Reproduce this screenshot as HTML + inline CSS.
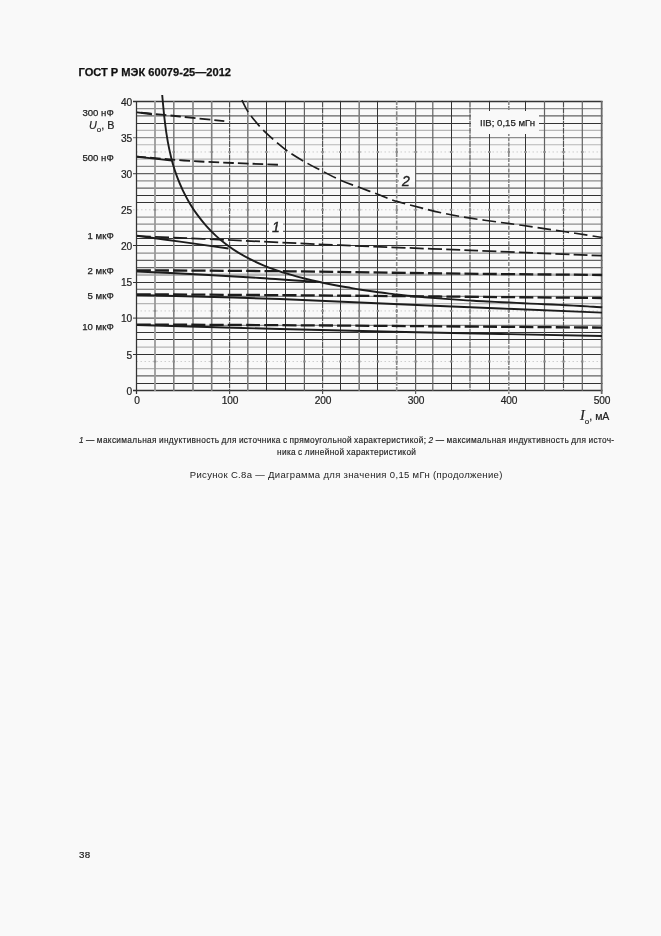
<!DOCTYPE html>
<html lang="ru"><head><meta charset="utf-8"><title>ГОСТ Р МЭК 60079-25—2012</title>
<style>
html,body{margin:0;padding:0;background:#f9f9f9}
body{width:661px;height:936px;background:#f9f9f9;position:relative;overflow:hidden;font-family:"Liberation Sans",sans-serif;color:#222}
.t{position:absolute;white-space:nowrap;line-height:14px;font-size:11px}
.hd{left:78.5px;top:65.2px;font-weight:bold;font-size:11.1px;color:#111;-webkit-text-stroke:0.25px #111}
.yl{left:100px;width:32px;text-align:right;font-size:10.2px;letter-spacing:-0.2px;-webkit-text-stroke:0.2px #222}
.xl{top:393.6px;width:40px;text-align:center;font-size:10.2px;letter-spacing:-0.2px;-webkit-text-stroke:0.2px #222}
.cl{left:55.7px;width:58px;text-align:right;font-size:9.6px;-webkit-text-stroke:0.25px #222}
svg{position:absolute;left:0;top:0}
.box{position:absolute;background:#f9f9f9}
.cap{font-size:8.3px;line-height:12px;letter-spacing:0.33px;word-spacing:-0.5px;-webkit-text-stroke:0.15px #222}
</style></head><body>
<div class="t hd">ГОСТ Р МЭК 60079-25—2012</div>
<svg width="661" height="936" viewBox="0 0 661 936">
<line x1="133.0" y1="101.50" x2="602.5" y2="101.50" stroke="#333" stroke-width="1.3"/>
<line x1="136.5" y1="108.62" x2="602.5" y2="108.62" stroke="#8c8c8c" stroke-width="1.25"/>
<line x1="136.5" y1="115.85" x2="602.5" y2="115.85" stroke="#626262" stroke-width="1.2"/>
<line x1="136.5" y1="123.50" x2="602.5" y2="123.50" stroke="#333" stroke-width="1.0"/>
<line x1="136.5" y1="130.30" x2="602.5" y2="130.30" stroke="#b6b6b6" stroke-width="1.2"/>
<line x1="133.0" y1="137.52" x2="602.5" y2="137.52" stroke="#8c8c8c" stroke-width="1.25"/>
<line x1="136.5" y1="144.75" x2="602.5" y2="144.75" stroke="#b6b6b6" stroke-width="1.2"/>
<line x1="136.5" y1="151.97" x2="602.5" y2="151.97" stroke="#cfcfcf" stroke-width="1.0" stroke-dasharray="1.5 2.5"/>
<line x1="136.5" y1="159.20" x2="602.5" y2="159.20" stroke="#b6b6b6" stroke-width="1.2"/>
<line x1="136.5" y1="166.42" x2="602.5" y2="166.42" stroke="#8c8c8c" stroke-width="1.25"/>
<line x1="133.0" y1="173.65" x2="602.5" y2="173.65" stroke="#626262" stroke-width="1.2"/>
<line x1="136.5" y1="180.87" x2="602.5" y2="180.87" stroke="#8c8c8c" stroke-width="1.25"/>
<line x1="136.5" y1="188.10" x2="602.5" y2="188.10" stroke="#626262" stroke-width="1.2"/>
<line x1="136.5" y1="195.50" x2="602.5" y2="195.50" stroke="#333" stroke-width="1.0"/>
<line x1="136.5" y1="202.50" x2="602.5" y2="202.50" stroke="#333" stroke-width="1.0"/>
<line x1="133.0" y1="209.77" x2="602.5" y2="209.77" stroke="#cfcfcf" stroke-width="1.0" stroke-dasharray="1.5 2.5"/>
<line x1="136.5" y1="217.00" x2="602.5" y2="217.00" stroke="#8c8c8c" stroke-width="1.25"/>
<line x1="136.5" y1="224.22" x2="602.5" y2="224.22" stroke="#8c8c8c" stroke-width="1.25"/>
<line x1="136.5" y1="231.45" x2="602.5" y2="231.45" stroke="#626262" stroke-width="1.2"/>
<line x1="136.5" y1="238.50" x2="602.5" y2="238.50" stroke="#333" stroke-width="1.0"/>
<line x1="133.0" y1="245.50" x2="602.5" y2="245.50" stroke="#333" stroke-width="1.0"/>
<line x1="136.5" y1="253.12" x2="602.5" y2="253.12" stroke="#8c8c8c" stroke-width="1.25"/>
<line x1="136.5" y1="260.35" x2="602.5" y2="260.35" stroke="#626262" stroke-width="1.2"/>
<line x1="136.5" y1="267.57" x2="602.5" y2="267.57" stroke="#626262" stroke-width="1.2"/>
<line x1="136.5" y1="274.80" x2="602.5" y2="274.80" stroke="#b6b6b6" stroke-width="2.4"/>
<line x1="133.0" y1="282.50" x2="602.5" y2="282.50" stroke="#333" stroke-width="1.0"/>
<line x1="136.5" y1="289.25" x2="602.5" y2="289.25" stroke="#626262" stroke-width="1.2"/>
<line x1="136.5" y1="296.47" x2="602.5" y2="296.47" stroke="#8c8c8c" stroke-width="1.25"/>
<line x1="136.5" y1="303.70" x2="602.5" y2="303.70" stroke="#b6b6b6" stroke-width="1.2"/>
<line x1="136.5" y1="310.92" x2="602.5" y2="310.92" stroke="#cfcfcf" stroke-width="1.0" stroke-dasharray="1.5 2.5"/>
<line x1="133.0" y1="318.15" x2="602.5" y2="318.15" stroke="#626262" stroke-width="1.2"/>
<line x1="136.5" y1="325.38" x2="602.5" y2="325.38" stroke="#8c8c8c" stroke-width="1.25"/>
<line x1="136.5" y1="332.50" x2="602.5" y2="332.50" stroke="#333" stroke-width="1.0"/>
<line x1="136.5" y1="339.50" x2="602.5" y2="339.50" stroke="#333" stroke-width="1.0"/>
<line x1="136.5" y1="347.05" x2="602.5" y2="347.05" stroke="#b6b6b6" stroke-width="1.2"/>
<line x1="133.0" y1="354.50" x2="602.5" y2="354.50" stroke="#333" stroke-width="1.0"/>
<line x1="136.5" y1="361.50" x2="602.5" y2="361.50" stroke="#cfcfcf" stroke-width="1.0" stroke-dasharray="1.5 2.5"/>
<line x1="136.5" y1="368.72" x2="602.5" y2="368.72" stroke="#b6b6b6" stroke-width="1.2"/>
<line x1="136.5" y1="375.95" x2="602.5" y2="375.95" stroke="#626262" stroke-width="1.2"/>
<line x1="136.5" y1="383.50" x2="602.5" y2="383.50" stroke="#333" stroke-width="1.0"/>
<line x1="133.0" y1="390.50" x2="602.5" y2="390.50" stroke="#333" stroke-width="1.3"/>
<line x1="136.50" y1="100.9" x2="136.50" y2="393.9" stroke="#333" stroke-width="1.25"/>
<line x1="155.00" y1="100.9" x2="155.00" y2="390.9" stroke="#9a9a9a" stroke-width="1.8"/>
<line x1="173.80" y1="100.9" x2="173.80" y2="390.9" stroke="#808080" stroke-width="1.6"/>
<line x1="193.00" y1="100.9" x2="193.00" y2="390.9" stroke="#808080" stroke-width="1.6"/>
<line x1="211.70" y1="100.9" x2="211.70" y2="390.9" stroke="#808080" stroke-width="1.6"/>
<line x1="229.60" y1="100.9" x2="229.60" y2="393.9" stroke="#505050" stroke-width="1.15" stroke-dasharray="6 0.7"/>
<line x1="247.80" y1="100.9" x2="247.80" y2="390.9" stroke="#808080" stroke-width="1.6"/>
<line x1="266.50" y1="100.9" x2="266.50" y2="390.9" stroke="#333" stroke-width="1.0"/>
<line x1="285.50" y1="100.9" x2="285.50" y2="390.9" stroke="#333" stroke-width="1.0"/>
<line x1="304.40" y1="100.9" x2="304.40" y2="390.9" stroke="#626262" stroke-width="1.2"/>
<line x1="322.60" y1="100.9" x2="322.60" y2="393.9" stroke="#505050" stroke-width="1.15" stroke-dasharray="6 0.7"/>
<line x1="340.50" y1="100.9" x2="340.50" y2="390.9" stroke="#333" stroke-width="1.0"/>
<line x1="359.20" y1="100.9" x2="359.20" y2="390.9" stroke="#808080" stroke-width="1.6"/>
<line x1="377.50" y1="100.9" x2="377.50" y2="390.9" stroke="#333" stroke-width="1.0"/>
<line x1="396.70" y1="100.9" x2="396.70" y2="390.9" stroke="#8a8a8a" stroke-width="1.6" stroke-dasharray="4 1.2"/>
<line x1="415.60" y1="100.9" x2="415.60" y2="393.9" stroke="#626262" stroke-width="1.2"/>
<line x1="432.80" y1="100.9" x2="432.80" y2="390.9" stroke="#626262" stroke-width="1.2"/>
<line x1="451.50" y1="100.9" x2="451.50" y2="390.9" stroke="#333" stroke-width="1.0"/>
<line x1="470.00" y1="100.9" x2="470.00" y2="390.9" stroke="#505050" stroke-width="1.15" stroke-dasharray="6 0.7"/>
<line x1="489.50" y1="100.9" x2="489.50" y2="390.9" stroke="#333" stroke-width="1.0"/>
<line x1="508.80" y1="100.9" x2="508.80" y2="393.9" stroke="#8a8a8a" stroke-width="1.6" stroke-dasharray="4 1.2"/>
<line x1="525.50" y1="100.9" x2="525.50" y2="390.9" stroke="#333" stroke-width="1.0"/>
<line x1="544.50" y1="100.9" x2="544.50" y2="390.9" stroke="#626262" stroke-width="1.2"/>
<line x1="563.50" y1="100.9" x2="563.50" y2="390.9" stroke="#505050" stroke-width="1.15" stroke-dasharray="6 0.7"/>
<line x1="582.30" y1="100.9" x2="582.30" y2="390.9" stroke="#626262" stroke-width="1.2"/>
<line x1="601.70" y1="100.9" x2="601.70" y2="393.9" stroke="#6a6a6a" stroke-width="1.8"/>
<rect x="153.8" y="151.0" width="2.4" height="2" fill="#8c8c8c"/>
<rect x="172.6" y="151.0" width="2.4" height="2" fill="#8c8c8c"/>
<rect x="191.8" y="151.0" width="2.4" height="2" fill="#8c8c8c"/>
<rect x="210.5" y="151.0" width="2.4" height="2" fill="#8c8c8c"/>
<rect x="228.4" y="151.0" width="2.4" height="2" fill="#8c8c8c"/>
<rect x="246.6" y="151.0" width="2.4" height="2" fill="#8c8c8c"/>
<rect x="265.3" y="151.0" width="2.4" height="2" fill="#8c8c8c"/>
<rect x="284.2" y="151.0" width="2.4" height="2" fill="#8c8c8c"/>
<rect x="303.2" y="151.0" width="2.4" height="2" fill="#8c8c8c"/>
<rect x="321.4" y="151.0" width="2.4" height="2" fill="#8c8c8c"/>
<rect x="339.2" y="151.0" width="2.4" height="2" fill="#8c8c8c"/>
<rect x="358.0" y="151.0" width="2.4" height="2" fill="#8c8c8c"/>
<rect x="376.7" y="151.0" width="2.4" height="2" fill="#8c8c8c"/>
<rect x="395.5" y="151.0" width="2.4" height="2" fill="#8c8c8c"/>
<rect x="414.4" y="151.0" width="2.4" height="2" fill="#8c8c8c"/>
<rect x="431.6" y="151.0" width="2.4" height="2" fill="#8c8c8c"/>
<rect x="450.0" y="151.0" width="2.4" height="2" fill="#8c8c8c"/>
<rect x="468.8" y="151.0" width="2.4" height="2" fill="#8c8c8c"/>
<rect x="488.1" y="151.0" width="2.4" height="2" fill="#8c8c8c"/>
<rect x="507.6" y="151.0" width="2.4" height="2" fill="#8c8c8c"/>
<rect x="524.3" y="151.0" width="2.4" height="2" fill="#8c8c8c"/>
<rect x="543.3" y="151.0" width="2.4" height="2" fill="#8c8c8c"/>
<rect x="562.3" y="151.0" width="2.4" height="2" fill="#8c8c8c"/>
<rect x="581.1" y="151.0" width="2.4" height="2" fill="#8c8c8c"/>
<rect x="153.8" y="208.8" width="2.4" height="2" fill="#8c8c8c"/>
<rect x="172.6" y="208.8" width="2.4" height="2" fill="#8c8c8c"/>
<rect x="191.8" y="208.8" width="2.4" height="2" fill="#8c8c8c"/>
<rect x="210.5" y="208.8" width="2.4" height="2" fill="#8c8c8c"/>
<rect x="228.4" y="208.8" width="2.4" height="2" fill="#8c8c8c"/>
<rect x="246.6" y="208.8" width="2.4" height="2" fill="#8c8c8c"/>
<rect x="265.3" y="208.8" width="2.4" height="2" fill="#8c8c8c"/>
<rect x="284.2" y="208.8" width="2.4" height="2" fill="#8c8c8c"/>
<rect x="303.2" y="208.8" width="2.4" height="2" fill="#8c8c8c"/>
<rect x="321.4" y="208.8" width="2.4" height="2" fill="#8c8c8c"/>
<rect x="339.2" y="208.8" width="2.4" height="2" fill="#8c8c8c"/>
<rect x="358.0" y="208.8" width="2.4" height="2" fill="#8c8c8c"/>
<rect x="376.7" y="208.8" width="2.4" height="2" fill="#8c8c8c"/>
<rect x="395.5" y="208.8" width="2.4" height="2" fill="#8c8c8c"/>
<rect x="414.4" y="208.8" width="2.4" height="2" fill="#8c8c8c"/>
<rect x="431.6" y="208.8" width="2.4" height="2" fill="#8c8c8c"/>
<rect x="450.0" y="208.8" width="2.4" height="2" fill="#8c8c8c"/>
<rect x="468.8" y="208.8" width="2.4" height="2" fill="#8c8c8c"/>
<rect x="488.1" y="208.8" width="2.4" height="2" fill="#8c8c8c"/>
<rect x="507.6" y="208.8" width="2.4" height="2" fill="#8c8c8c"/>
<rect x="524.3" y="208.8" width="2.4" height="2" fill="#8c8c8c"/>
<rect x="543.3" y="208.8" width="2.4" height="2" fill="#8c8c8c"/>
<rect x="562.3" y="208.8" width="2.4" height="2" fill="#8c8c8c"/>
<rect x="581.1" y="208.8" width="2.4" height="2" fill="#8c8c8c"/>
<rect x="153.8" y="309.9" width="2.4" height="2" fill="#8c8c8c"/>
<rect x="172.6" y="309.9" width="2.4" height="2" fill="#8c8c8c"/>
<rect x="191.8" y="309.9" width="2.4" height="2" fill="#8c8c8c"/>
<rect x="210.5" y="309.9" width="2.4" height="2" fill="#8c8c8c"/>
<rect x="228.4" y="309.9" width="2.4" height="2" fill="#8c8c8c"/>
<rect x="246.6" y="309.9" width="2.4" height="2" fill="#8c8c8c"/>
<rect x="265.3" y="309.9" width="2.4" height="2" fill="#8c8c8c"/>
<rect x="284.2" y="309.9" width="2.4" height="2" fill="#8c8c8c"/>
<rect x="303.2" y="309.9" width="2.4" height="2" fill="#8c8c8c"/>
<rect x="321.4" y="309.9" width="2.4" height="2" fill="#8c8c8c"/>
<rect x="339.2" y="309.9" width="2.4" height="2" fill="#8c8c8c"/>
<rect x="358.0" y="309.9" width="2.4" height="2" fill="#8c8c8c"/>
<rect x="376.7" y="309.9" width="2.4" height="2" fill="#8c8c8c"/>
<rect x="395.5" y="309.9" width="2.4" height="2" fill="#8c8c8c"/>
<rect x="414.4" y="309.9" width="2.4" height="2" fill="#8c8c8c"/>
<rect x="431.6" y="309.9" width="2.4" height="2" fill="#8c8c8c"/>
<rect x="450.0" y="309.9" width="2.4" height="2" fill="#8c8c8c"/>
<rect x="468.8" y="309.9" width="2.4" height="2" fill="#8c8c8c"/>
<rect x="488.1" y="309.9" width="2.4" height="2" fill="#8c8c8c"/>
<rect x="507.6" y="309.9" width="2.4" height="2" fill="#8c8c8c"/>
<rect x="524.3" y="309.9" width="2.4" height="2" fill="#8c8c8c"/>
<rect x="543.3" y="309.9" width="2.4" height="2" fill="#8c8c8c"/>
<rect x="562.3" y="309.9" width="2.4" height="2" fill="#8c8c8c"/>
<rect x="581.1" y="309.9" width="2.4" height="2" fill="#8c8c8c"/>
<rect x="153.8" y="360.5" width="2.4" height="2" fill="#8c8c8c"/>
<rect x="172.6" y="360.5" width="2.4" height="2" fill="#8c8c8c"/>
<rect x="191.8" y="360.5" width="2.4" height="2" fill="#8c8c8c"/>
<rect x="210.5" y="360.5" width="2.4" height="2" fill="#8c8c8c"/>
<rect x="228.4" y="360.5" width="2.4" height="2" fill="#8c8c8c"/>
<rect x="246.6" y="360.5" width="2.4" height="2" fill="#8c8c8c"/>
<rect x="265.3" y="360.5" width="2.4" height="2" fill="#8c8c8c"/>
<rect x="284.2" y="360.5" width="2.4" height="2" fill="#8c8c8c"/>
<rect x="303.2" y="360.5" width="2.4" height="2" fill="#8c8c8c"/>
<rect x="321.4" y="360.5" width="2.4" height="2" fill="#8c8c8c"/>
<rect x="339.2" y="360.5" width="2.4" height="2" fill="#8c8c8c"/>
<rect x="358.0" y="360.5" width="2.4" height="2" fill="#8c8c8c"/>
<rect x="376.7" y="360.5" width="2.4" height="2" fill="#8c8c8c"/>
<rect x="395.5" y="360.5" width="2.4" height="2" fill="#8c8c8c"/>
<rect x="414.4" y="360.5" width="2.4" height="2" fill="#8c8c8c"/>
<rect x="431.6" y="360.5" width="2.4" height="2" fill="#8c8c8c"/>
<rect x="450.0" y="360.5" width="2.4" height="2" fill="#8c8c8c"/>
<rect x="468.8" y="360.5" width="2.4" height="2" fill="#8c8c8c"/>
<rect x="488.1" y="360.5" width="2.4" height="2" fill="#8c8c8c"/>
<rect x="507.6" y="360.5" width="2.4" height="2" fill="#8c8c8c"/>
<rect x="524.3" y="360.5" width="2.4" height="2" fill="#8c8c8c"/>
<rect x="543.3" y="360.5" width="2.4" height="2" fill="#8c8c8c"/>
<rect x="562.3" y="360.5" width="2.4" height="2" fill="#8c8c8c"/>
<rect x="581.1" y="360.5" width="2.4" height="2" fill="#8c8c8c"/>
<path d="M162.2,95.0 C162.4,97.0 162.9,102.7 163.3,107.0 C163.7,111.3 164.2,116.4 164.8,121.1 C165.4,125.8 165.9,130.5 166.7,135.2 C167.4,139.9 168.3,144.7 169.3,149.4 C170.3,154.1 171.4,158.8 172.7,163.4 C174.0,168.0 175.5,172.6 177.2,177.1 C178.9,181.6 180.8,186.0 182.8,190.3 C184.9,194.6 187.1,198.8 189.5,202.9 C191.9,207.0 194.6,211.1 197.4,214.9 C200.2,218.7 203.1,222.4 206.2,225.9 C209.3,229.4 212.6,232.8 216.0,235.9 C219.4,239.1 223.0,242.0 226.7,244.8 C230.4,247.6 234.3,250.2 238.3,252.6 C242.3,255.0 246.4,257.3 250.6,259.4 C254.8,261.5 259.0,263.5 263.4,265.3 C267.8,267.1 272.3,268.7 276.8,270.3 C281.3,271.9 285.9,273.3 290.5,274.7 C295.1,276.1 299.8,277.3 304.5,278.5 C309.2,279.7 313.9,280.8 318.6,281.8 C323.3,282.8 328.1,283.8 332.8,284.7 C337.5,285.6 342.3,286.5 347.0,287.3 C351.7,288.1 356.4,289.0 361.1,289.7 C365.8,290.4 370.5,291.0 375.2,291.7 C379.9,292.4 384.6,293.0 389.3,293.6 C394.0,294.2 398.7,294.7 403.4,295.2 C408.1,295.7 412.8,296.2 417.5,296.6 C422.2,297.0 426.9,297.4 431.6,297.8 C436.3,298.2 440.9,298.5 445.6,298.9 C450.3,299.2 455.0,299.6 459.7,299.9 C464.4,300.2 469.1,300.5 473.8,300.8 C478.5,301.1 483.3,301.3 488.0,301.5 C492.7,301.7 497.4,302.0 502.1,302.2 C506.8,302.4 511.6,302.7 516.3,302.9 C521.0,303.1 525.8,303.4 530.5,303.6 C535.2,303.8 540.0,304.0 544.7,304.2 C549.5,304.4 554.2,304.7 559.0,304.9 C563.8,305.1 568.6,305.4 573.4,305.6 C578.2,305.9 582.9,306.1 587.7,306.4 C592.5,306.7 599.8,307.1 602.2,307.3" stroke="#1c1c1c" stroke-width="1.9" fill="none"/>
<path d="M137.0,235.8 C144.2,236.8 164.8,239.5 180.0,241.6 C195.2,243.7 220.4,247.3 228.5,248.5" stroke="#1c1c1c" stroke-width="1.9" fill="none"/>
<path d="M137.0,271.5 C147.5,272.0 179.5,273.4 200.0,274.5 C220.5,275.6 240.7,276.8 260.0,278.0 C279.3,279.2 306.7,281.3 316.0,282.0" stroke="#1c1c1c" stroke-width="1.9" fill="none"/>
<path d="M137.0,295.0 C160.8,295.7 229.5,297.2 280.0,299.0 C330.5,300.8 386.3,303.7 440.0,306.0 C493.7,308.3 575.0,311.5 602.0,312.6" stroke="#1c1c1c" stroke-width="1.9" fill="none"/>
<path d="M137.0,325.0 C160.8,325.7 229.5,327.7 280.0,329.0 C330.5,330.3 386.3,331.5 440.0,332.7 C493.7,333.9 575.0,335.4 602.0,336.0" stroke="#1c1c1c" stroke-width="1.9" fill="none"/>
<path d="M137.0,112.4 C139.5,112.7 149.5,113.9 152.0,114.2" stroke="#1c1c1c" stroke-width="1.9" fill="none"/>
<path d="M137.0,156.7 C142.8,157.3 166.2,159.9 172.0,160.6" stroke="#1c1c1c" stroke-width="1.9" fill="none"/>
<path d="M241.9,100.2 C242.8,101.9 245.2,107.2 247.3,110.6 C249.4,113.9 251.7,116.9 254.5,120.3 C257.3,123.7 260.6,127.6 264.2,131.2 C267.8,134.8 272.3,138.6 276.3,142.0 C280.3,145.4 283.5,148.3 288.4,151.7 C293.2,155.1 299.8,159.0 305.4,162.2 C311.0,165.4 316.2,168.0 322.3,171.1 C328.4,174.2 335.2,178.0 341.7,180.8 C348.1,183.6 354.6,185.6 361.0,188.0 C367.4,190.4 374.1,193.0 380.4,195.3 C386.7,197.6 386.4,198.6 398.6,201.9 C410.8,205.2 433.0,211.4 453.5,215.3 C474.0,219.2 502.7,222.5 521.6,225.3 C540.5,228.1 553.5,230.0 567.0,232.0 C580.5,234.0 596.5,236.6 602.4,237.5" stroke="#1c1c1c" stroke-width="1.65" fill="none" stroke-dasharray="13.5 5"/>
<path d="M137.0,112.2 C144.2,112.9 165.4,115.0 180.0,116.5 C194.6,118.0 216.9,120.4 224.3,121.2" stroke="#1c1c1c" stroke-width="1.85" fill="none" stroke-dasharray="10.6 4.05" stroke-dashoffset="10.4"/>
<path d="M137.0,156.7 C147.5,157.5 176.3,160.2 200.0,161.5 C223.7,162.8 265.8,164.2 279.0,164.8" stroke="#1c1c1c" stroke-width="1.85" fill="none" stroke-dasharray="10.6 4.05" stroke-dashoffset="1.45"/>
<path d="M137.0,236.0 C152.3,236.7 195.2,238.5 229.0,240.0 C262.8,241.5 299.8,243.5 340.0,245.2 C380.2,246.9 426.3,248.6 470.0,250.3 C513.7,252.1 580.0,254.8 602.0,255.7" stroke="#1c1c1c" stroke-width="1.75" fill="none" stroke-dasharray="14 4.2"/>
<path d="M137.0,270.3 C162.5,270.5 239.5,270.8 290.0,271.3 C340.5,271.8 388.0,272.8 440.0,273.4 C492.0,274.0 575.0,274.7 602.0,275.0" stroke="#1c1c1c" stroke-width="2.3" fill="none" stroke-dasharray="14 4.2"/>
<path d="M137.0,294.3 C164.2,294.5 222.5,294.7 300.0,295.3 C377.5,295.9 551.7,297.6 602.0,298.0" stroke="#1c1c1c" stroke-width="2.3" fill="none" stroke-dasharray="14 4.2"/>
<path d="M137.0,324.6 C164.2,324.7 222.5,324.8 300.0,325.3 C377.5,325.8 551.7,327.2 602.0,327.6" stroke="#1c1c1c" stroke-width="2.3" fill="none" stroke-dasharray="14 4.2"/>
</svg>
<div class="t yl" style="top:384.6px">0</div><div class="t yl" style="top:348.5px">5</div><div class="t yl" style="top:312.3px">10</div><div class="t yl" style="top:276.2px">15</div><div class="t yl" style="top:240.1px">20</div><div class="t yl" style="top:204.0px">25</div><div class="t yl" style="top:167.8px">30</div><div class="t yl" style="top:131.7px">35</div><div class="t yl" style="top:95.6px">40</div><div class="t xl" style="left:117.0px">0</div><div class="t xl" style="left:210.0px">100</div><div class="t xl" style="left:303.0px">200</div><div class="t xl" style="left:396.0px">300</div><div class="t xl" style="left:489.0px">400</div><div class="t xl" style="left:582.0px">500</div><div class="t cl" style="top:106.0px">300 нФ</div><div class="t cl" style="top:150.5px">500 нФ</div><div class="t cl" style="top:228.9px">1 мкФ</div><div class="t cl" style="top:263.5px">2 мкФ</div><div class="t cl" style="top:288.5px">5 мкФ</div><div class="t cl" style="top:319.5px">10 мкФ</div>
<div class="t" style="left:89px;top:118px;font-size:10.8px;-webkit-text-stroke:0.2px #222"><i>U</i><sub style="font-size:8px;vertical-align:-3.2px">o</sub>, В</div>
<div class="t" style="left:580px;top:408px;font-size:10.5px;-webkit-text-stroke:0.2px #222"><i style="font-family:'Liberation Serif',serif;font-size:14.5px">I</i><sub style="font-size:8px;vertical-align:-3.5px">o</sub>, мА</div>
<div class="box" style="left:471px;top:111px;width:68px;height:22.5px"></div><div class="t" style="left:480px;top:116px;font-size:9.6px;-webkit-text-stroke:0.25px #222">IIВ; 0,15 мГн</div>
<div class="box" style="left:269px;top:219px;width:13.5px;height:17px"></div><div class="t" style="left:272px;top:219px;font-size:14px;font-style:italic;line-height:16px;-webkit-text-stroke:0.4px #222">1</div>
<div class="box" style="left:398.5px;top:170px;width:16.5px;height:15.5px"></div><div class="t" style="left:402px;top:172.6px;font-size:14px;font-style:italic;line-height:16px;-webkit-text-stroke:0.4px #222">2</div>
<div class="t cap" style="left:79px;top:434px"><i>1</i> — максимальная индуктивность для источника с прямоугольной характеристикой; <i>2</i> — максимальная индуктивность для источ-</div>
<div class="t cap" style="left:277px;top:446px">ника с линейной характеристикой</div>
<div class="t" style="left:189.8px;top:468px;font-size:9.5px;letter-spacing:0.33px">Рисунок С.8а — Диаграмма для значения 0,15 мГн (продолжение)</div>
<div class="t" style="left:79px;top:848px;font-size:9.8px;letter-spacing:0.3px;-webkit-text-stroke:0.2px #222">38</div>
</body></html>
